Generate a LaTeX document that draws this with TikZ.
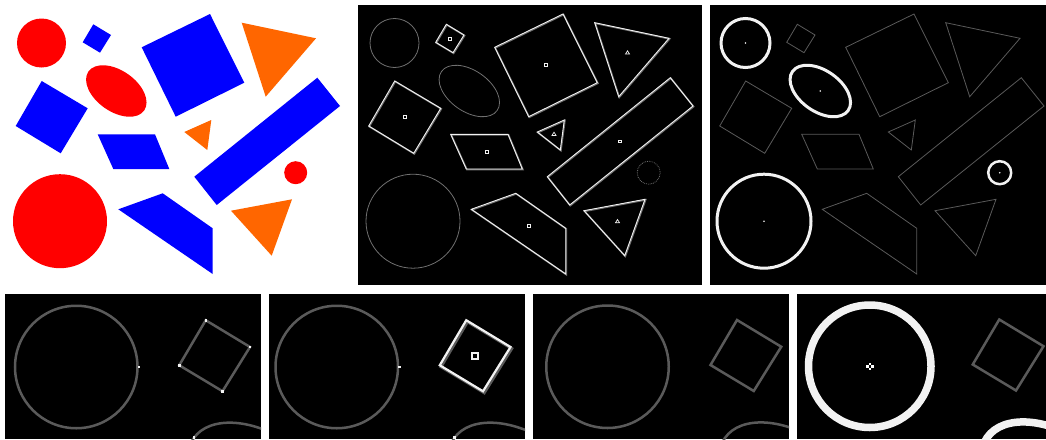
\documentclass[tikz,border=0pt]{standalone}
\definecolor{shred}{HTML}{FF0000}
\definecolor{shblue}{HTML}{0000FF}
\definecolor{shorange}{HTML}{FF6600}
\definecolor{edgegrey}{HTML}{707070}
\definecolor{dimgrey}{HTML}{5A5A5A}
\definecolor{edgewhite}{HTML}{F2F2F2}
% shapes of the scene, in pixel coordinates of the first panel
\newcommand\ShCircA[1]{\path[#1] (41.5,43) circle (24.5);}
\newcommand\ShSqS[1]{\path[#1] (82.7,42.3)--(93.3,24.3)--(111,35)--(100,52.7)--cycle;}
\newcommand\ShEll[1]{\path[#1,rotate around={-35:(116.3,91)}] (116.3,91) ellipse (34 and 20.5);}
\newcommand\ShSqB[1]{\path[#1] (141.7,47.3)--(210,14)--(244.3,82.7)--(175.7,116.7)--cycle;}
\newcommand\ShTriA[1]{\path[#1] (241.7,22.7)--(316,38.3)--(265.7,96.7)--cycle;}
\newcommand\ShSqL[1]{\path[#1] (15.7,126)--(41.7,81)--(87.7,108.3)--(60.7,153.3)--cycle;}
\newcommand\ShPar[1]{\path[#1] (97.7,134.3)--(155,134.3)--(169.3,169)--(113.3,169)--cycle;}
\newcommand\ShTriS[1]{\path[#1] (184.3,132)--(211.3,120)--(207.3,150)--cycle;}
\newcommand\ShRect[1]{\path[#1] (194.3,176.7)--(317.3,77.7)--(340,106)--(216.7,205)--cycle;}
\newcommand\ShCircS[1]{\path[#1] (295.7,172.7) circle (11.5);}
\newcommand\ShCircB[1]{\path[#1] (60,221.2) circle (47);}
\newcommand\ShTrap[1]{\path[#1] (118.3,209.3)--(162.7,193.3)--(212.7,228.3)--(212.7,274)--cycle;}
\newcommand\ShTriB[1]{\path[#1] (231,210.7)--(292,199.3)--(271.7,255.7)--cycle;}
\newcommand\AllPolys[1]{\ShSqS{#1}\ShSqB{#1}\ShTriA{#1}\ShSqL{#1}\ShPar{#1}\ShTriS{#1}\ShRect{#1}\ShTrap{#1}\ShTriB{#1}}
\newcommand\SqMark[3]{\draw[edgewhite,line width=#3] (#1,#2) ++(-1.4,-1.4) rectangle ++(2.8,2.8);}
\newcommand\TriMark[2]{\draw[edgewhite,line width=0.7] (#1,#2) ++(0,-1.8) -- ++(2,3.2) -- ++(-4,0) -- cycle;}
\newcommand\Dot[3]{\fill[#3] (#1,#2) ++(-0.5,-0.5) rectangle ++(1,1);}
\newcommand\CenterMark[2]{\Dot{#1+1}{#2}{white}\Dot{#1-1}{#2}{white}\Dot{#1}{#2+1}{white}\Dot{#1}{#2-1}{white}}
\begin{document}
\begin{tikzpicture}[x=1pt,y=-1pt]
\useasboundingbox (0,0) rectangle (1046,439);
\fill[white] (0,0) rectangle (1046,439);
% ---------- panel 1: the coloured shapes ----------
\begin{scope}
\ShCircA{fill=shred}
\ShSqS{fill=shblue}
\ShEll{fill=shred}
\ShSqB{fill=shblue}
\ShTriA{fill=shorange}
\ShSqL{fill=shblue}
\ShPar{fill=shblue}
\ShTriS{fill=shorange}
\ShRect{fill=shblue}
\ShCircS{fill=shred}
\ShCircB{fill=shred}
\ShTrap{fill=shblue}
\ShTriB{fill=shorange}
\end{scope}
% ---------- panel 2: edges, polygons marked ----------
\begin{scope}[shift={(353,0)}]
\fill[black] (5,5) rectangle (349,285);
\begin{scope}
\clip (5,5) rectangle (349,285);
\AllPolys{draw=edgegrey,line width=1.6,shift={(0.6,0.6)}}
\AllPolys{draw=edgewhite,line width=0.9}
\ShCircA{draw=edgegrey,line width=0.8}
\ShEll{draw=edgegrey,line width=0.8}
\ShCircB{draw=edgegrey,line width=0.8}
\ShCircS{draw=edgegrey,line width=0.8,densely dotted}
\SqMark{96.8}{38.6}{0.7}
\SqMark{192.9}{65.2}{0.7}
\SqMark{51.5}{117.2}{0.7}
\SqMark{133.8}{151.7}{0.7}
\SqMark{267.1}{141.4}{0.7}
\SqMark{175.8}{225.5}{0.7}
\TriMark{274.5}{52.6}
\TriMark{201}{134}
\TriMark{264.5}{221.3}
\end{scope}
\end{scope}
% ---------- panel 3: round shapes found ----------
\begin{scope}[shift={(704,0)}]
\fill[black] (6,5) rectangle (342,285);
\begin{scope}
\clip (6,5) rectangle (342,285);
\AllPolys{draw=dimgrey,line width=0.8}
\ShCircA{draw=edgewhite,line width=3}
\ShEll{draw=edgewhite,line width=3}
\ShCircB{draw=edgewhite,line width=3}
\ShCircS{draw=edgewhite,line width=2.5}
\fill[edgewhite] (41.5,43) circle (0.9);
\fill[edgewhite] (116.3,91) circle (0.9);
\fill[edgewhite] (60,221.2) circle (0.9);
\fill[edgewhite] (295.7,172.7) circle (0.9);
\end{scope}
\end{scope}
% ---------- bottom row: enlarged details ----------
% A
\begin{scope}
\fill[black] (5,294) rectangle (261,439);
\clip (5,294) rectangle (261,439);
\begin{scope}[shift={(-27.5,259.5)},scale=2.5]
\ShCircA{draw=dimgrey,line width=2.5}
\ShEll{draw=dimgrey,line width=2.5}
\ShSqS{draw=dimgrey,line width=2.5}
\Dot{66.6}{43}{edgewhite}
\Dot{82.7}{42.3}{edgewhite}\Dot{93.3}{24.3}{edgewhite}\Dot{111}{35}{edgewhite}\Dot{100}{52.7}{edgewhite}
\Dot{88.6}{71.2}{edgewhite}
\end{scope}
\end{scope}
% B
\begin{scope}
\fill[black] (269,294) rectangle (525,439);
\clip (269,294) rectangle (525,439);
\begin{scope}[shift={(233,259.5)},scale=2.5]
\ShCircA{draw=dimgrey,line width=2.5}
\ShEll{draw=dimgrey,line width=2.5}
\ShSqS{draw=dimgrey,line width=3,shift={(0.5,0.6)}}
\ShSqS{draw=edgewhite,line width=2.2}
\Dot{66.6}{43}{edgewhite}
\Dot{88.6}{71.2}{edgewhite}
\draw[edgewhite,line width=2.2] (95.6,37.4) rectangle (98,39.8);
\end{scope}
\end{scope}
% C
\begin{scope}
\fill[black] (533,294) rectangle (789,439);
\clip (533,294) rectangle (789,439);
\begin{scope}[shift={(503.75,259.25)},scale=2.5]
\ShCircA{draw=dimgrey,line width=2.5}
\ShEll{draw=dimgrey,line width=2.5}
\ShSqS{draw=dimgrey,line width=2.5}
\end{scope}
\end{scope}
% D
\begin{scope}
\fill[black] (797,294) rectangle (1046,439);
\clip (797,294) rectangle (1046,439);
\begin{scope}[shift={(766,258.75)},scale=2.5]
\ShSqS{draw=dimgrey,line width=2.5}
\ShCircA{draw=edgewhite,line width=7.5}
\ShEll{draw=edgewhite,line width=7.5}
\CenterMark{41.5}{43}
\end{scope}
\end{scope}
\end{tikzpicture}
\end{document}
